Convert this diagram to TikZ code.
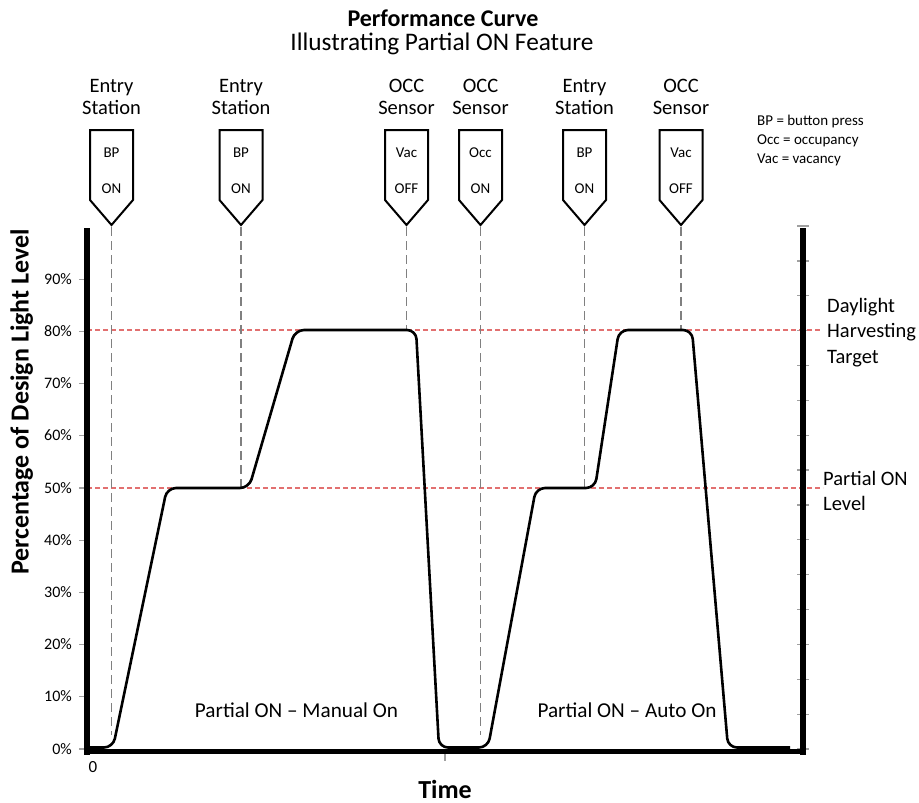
\documentclass[tikz,border=0pt]{standalone}
\usepackage{fontspec}
\setmainfont{Carlito}
\definecolor{tgtred}{RGB}{226,112,112}
\definecolor{guidegray}{RGB}{128,128,128}
\definecolor{tickgray}{RGB}{160,160,160}
\begin{document}
\begin{tikzpicture}[x=1pt,y=-1pt,
  txt/.style={inner sep=0pt, outer sep=0pt, anchor=base},
  titlefont/.style={txt, font=\bfseries\fontsize{24}{26}\selectfont},
  subfont/.style={txt, font=\fontsize{25.3}{27}\selectfont},
  hdr/.style={txt, font=\fontsize{20.5}{22}\selectfont},
  mk/.style={txt, font=\fontsize{15}{17}\selectfont},
  legend/.style={inner sep=0pt, anchor=base west, font=\fontsize{15}{17}\selectfont},
  pct/.style={inner sep=0pt, anchor=base east, font=\fontsize{16}{18}\selectfont},
  side/.style={inner sep=0pt, anchor=base west, font=\fontsize{20.5}{24}\selectfont},
  region/.style={txt, font=\fontsize{21.2}{24}\selectfont},
  axlabel/.style={txt, font=\bfseries\fontsize{26}{28}\selectfont},
  axisline/.style={line width=6pt},
  tickline/.style={draw=tickgray, line width=1.3pt},
  guide/.style={draw=guidegray, line width=1.5pt, dash pattern=on 9pt off 5pt},
  target/.style={draw=tgtred, line width=1.5pt, dash pattern=on 5pt off 3pt},
  markerbox/.style={draw=black, line width=2pt, fill=white, line join=miter},
  curve/.style={draw=black, line width=2.6pt, rounded corners=9pt}
]
\useasboundingbox (0,0) rectangle (919,803);

% titles
\node[titlefont] (title) at (443,26.5) {Performance Curve};
\node[subfont] (subtitle) at (442,50.5) {Illustrating Partial ON Feature};

% ticks (behind axes)
\foreach \k/\lab in {0/0\%,1/10\%,2/20\%,3/30\%,4/40\%,5/50\%,6/60\%,7/70\%,8/80\%,9/90\%} {
  \draw[tickline] (79,{749-52.2*\k}) -- (87,{749-52.2*\k});
  \node[pct] at (72,{754-52.2*\k}) {\lab};
}
\foreach \k in {0,...,15} {
  \draw[tickline] (797,{226+34.87*\k}) -- (809,{226+34.87*\k});
}
\draw[tickline] (445,751) -- (445,761);

% target lines
\coordinate (t80a) at (87,330);
\coordinate (t80b) at (820,330);
\coordinate (t50a) at (87,488);
\coordinate (t50b) at (823,488);
\draw[target] (t80a) -- (t80b);
\draw[target] (t50a) -- (t50b);

% markers and guides
\foreach \i/\x/\e in {1/111.5/735, 2/241/487, 3/406.5/330, 4/480.5/735, 5/584.5/487, 6/681/330} {
  \draw[markerbox] (\x-21.5,130) -- (\x+21.5,130) -- (\x+21.5,200) -- (\x,225) -- (\x-21.5,200) -- cycle;
  \coordinate (tip\i) at (\x,227);
  \coordinate (end\i) at (\x,\e);
  \draw[guide] (tip\i) -- (end\i);
}

\node[hdr] (h1a) at (111.5,92) {Entry};
\node[hdr] (h1b) at (111.5,114) {Station};
\node[hdr] (h2a) at (241,92) {Entry};
\node[hdr] (h2b) at (241,114) {Station};
\node[hdr] (h3a) at (406.5,92) {OCC};
\node[hdr] (h3b) at (406.5,114) {Sensor};
\node[hdr] (h4a) at (480.5,92) {OCC};
\node[hdr] (h4b) at (480.5,114) {Sensor};
\node[hdr] (h5a) at (584.5,92) {Entry};
\node[hdr] (h5b) at (584.5,114) {Station};
\node[hdr] (h6a) at (681,92) {OCC};
\node[hdr] (h6b) at (681,114) {Sensor};

\node[mk] (m1a) at (111.5,157) {BP};
\node[mk] (m1b) at (111.5,193) {ON};
\node[mk] (m2a) at (241,157) {BP};
\node[mk] (m2b) at (241,193) {ON};
\node[mk] (m3a) at (406.5,157) {Vac};
\node[mk] (m3b) at (406.5,193) {OFF};
\node[mk] (m4a) at (480.5,157) {Occ};
\node[mk] (m4b) at (480.5,193) {ON};
\node[mk] (m5a) at (584.5,157) {BP};
\node[mk] (m5b) at (584.5,193) {ON};
\node[mk] (m6a) at (681,157) {Vac};
\node[mk] (m6b) at (681,193) {OFF};

% legend
\node[legend] (lg1) at (757,125) {BP = button press};
\node[legend] (lg2) at (757,144) {Occ = occupancy};
\node[legend] (lg3) at (757,163) {Vac = vacancy};

% curve
\draw[curve] (90,747.5) -- (113,747.5) -- (167,488) -- (249,488) -- (295,330)
  -- (416,330) -- (439,747.5) -- (488,747.5) -- (536,488) -- (595,488)
  -- (619,330) -- (692,330) -- (728,747.5) -- (790,747.5);

% axes
\coordinate (LT) at (87,228);
\coordinate (LB) at (87,754.5);
\coordinate (RT) at (803,228);
\coordinate (RB) at (803,754.5);
\coordinate (BL) at (84,751.5);
\coordinate (BR) at (806,751.5);
\draw[axisline] (LT) -- (LB);
\draw[axisline] (RT) -- (RB);
\draw[axisline, line width=5.5pt] (BL) -- (BR);

% side labels
\node[side] (dh1) at (827,312) {Daylight};
\node[side] (dh2) at (827,337.5) {Harvesting};
\node[side] (dh3) at (827,363) {Target};
\node[side] (po1) at (823,485) {Partial ON};
\node[side] (po2) at (823,510.5) {Level};

% region labels
\node[region] (rm) at (296.5,717) {Partial ON – Manual On};
\node[region] (ra) at (627,717) {Partial ON – Auto On};

% axis labels
\node[inner sep=0pt, anchor=base, font=\fontsize{17}{19}\selectfont] (zero) at (93,772) {0};
\node[axlabel] (time) at (445,798) {Time};
\node[axlabel, rotate=90] (ylab) at (28.5,402) {Percentage of Design Light Level};
\end{tikzpicture}
\end{document}
